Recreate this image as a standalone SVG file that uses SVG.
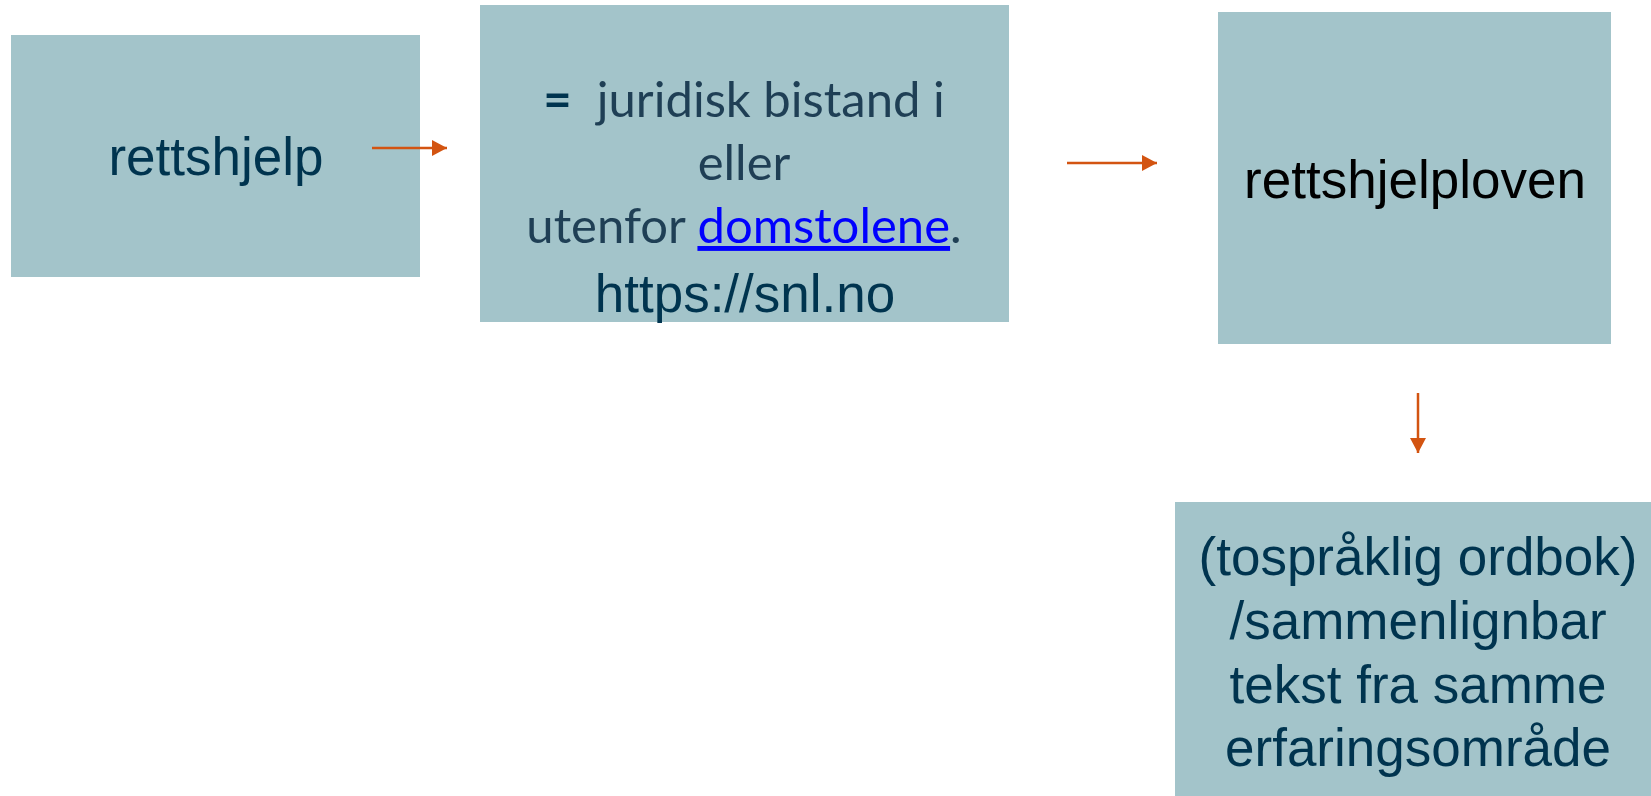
<svg xmlns="http://www.w3.org/2000/svg" width="1651" height="796" viewBox="0 0 1651 796">
<style>
.box{fill:#A3C4CA}
.ar{font-family:"Liberation Sans",Arial,sans-serif;font-size:53px;fill:#00344F;text-anchor:middle}
.cal{font-family:Lato,"Open Sans",sans-serif;font-size:49px;fill:#1F3F55;text-anchor:middle}
.conn{stroke:#D35411;stroke-width:2.5;fill:none}
</style>
<defs>
<marker id="ah" viewBox="0 0 15 16" refX="15" refY="8" markerWidth="15" markerHeight="16" markerUnits="userSpaceOnUse" orient="auto">
<path d="M0,0 L15,8 L0,16 Z" fill="#D35411"/>
</marker>
</defs>
<rect width="1651" height="796" fill="#FFFFFF"/>
<g id="node-rettshjelp">
<rect class="box" x="11" y="35" width="409" height="242"/>
<text class="ar" x="216" y="175">rettshjelp</text>
</g>
<g id="node-definisjon">
<rect class="box" x="480" y="5" width="529" height="317"/>
<text class="cal" x="744" y="117" xml:space="preserve"><tspan font-weight="bold" fill="#00344F">=</tspan>  juridisk bistand i</text>
<text class="cal" x="744" y="180">eller</text>
<text class="cal" x="744" y="243">utenfor <tspan fill="#0000FF" text-decoration="underline">domstolene</tspan>.</text>
<text class="ar" x="745" y="312">https://snl.no</text>
</g>
<g id="node-rettshjelploven">
<rect class="box" x="1218" y="12" width="393" height="332"/>
<text class="ar" x="1415" y="198" fill="#000000" style="fill:#000000">rettshjelploven</text>
</g>
<g id="node-ordbok">
<rect class="box" x="1175" y="502" width="476" height="294"/>
<text class="ar" x="1418" y="575">(tospråklig ordbok)</text>
<text class="ar" x="1418" y="639">/sammenlignbar</text>
<text class="ar" x="1418" y="703">tekst fra samme</text>
<text class="ar" x="1418" y="766">erfaringsområde</text>
</g>
<g id="connectors">
<line class="conn" x1="372" y1="148" x2="447" y2="148" marker-end="url(#ah)"/>
<line class="conn" x1="1067" y1="163" x2="1157" y2="163" marker-end="url(#ah)"/>
<line class="conn" x1="1418" y1="393" x2="1418" y2="453" marker-end="url(#ah)"/>
</g>
</svg>
